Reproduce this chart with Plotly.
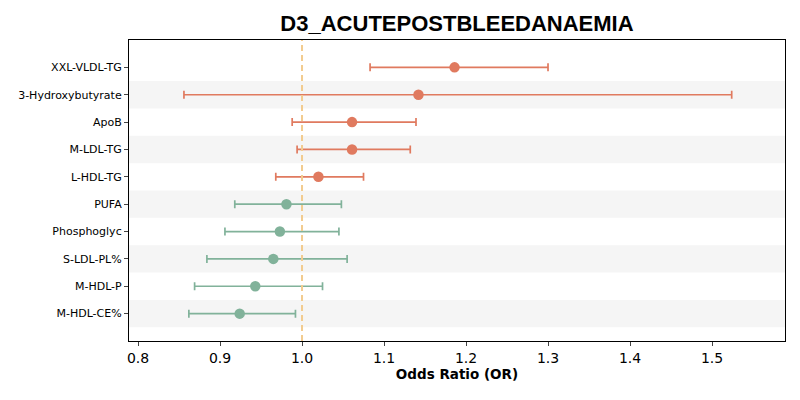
#### Import Modules ####
import plotly.graph_objects as go



#### Global Objects ####
TITLE = "D3_ACUTEPOSTBLEEDANAEMIA"

# top to bottom, as shown
metabolites = ["XXL-VLDL-TG", "3-Hydroxybutyrate", "ApoB", "M-LDL-TG", "L-HDL-TG",
               "PUFA", "Phosphoglyc", "S-LDL-PL%", "M-HDL-P", "M-HDL-CE%"]
odds_ratio = [1.186, 1.142, 1.061, 1.061, 1.020, 0.981, 0.973, 0.965, 0.943, 0.924]
ci_low = [1.083, 0.856, 0.988, 0.994, 0.968, 0.918, 0.906, 0.884, 0.869, 0.862]
ci_high = [1.300, 1.524, 1.139, 1.132, 1.075, 1.048, 1.045, 1.055, 1.025, 0.992]

x_ticks = [0.8, 0.9, 1.0, 1.1, 1.2, 1.3, 1.4, 1.5]

ORANGE = "#E07A5F"
GREEN = "#81B29A"
REF_LINE = "#F2CC8F"
BAND = "#F5F5F5"

# page body has an 8px margin, so the figure is made a bit smaller
W, H = 792, 392



#### Define Functions ####
def build_plot():
    n = len(metabolites)
    # bottom row sits at y=0
    y_pos = [n - 1 - i for i in range(n)]

    fig = go.Figure()

    # Alternating grey bands behind the rows
    for i, y in enumerate(y_pos):
        if y % 2 == 0:
            fig.add_shape(type="rect", xref="paper", yref="y",
                          x0=0, x1=1, y0=y - 0.5, y1=y + 0.5,
                          fillcolor=BAND, line_width=0, layer="below")

    # Reference line at OR = 1
    fig.add_shape(type="line", xref="x", yref="paper",
                  x0=1.0, x1=1.0, y0=0, y1=1,
                  line=dict(color=REF_LINE, width=2, dash="6px,4px"))

    # One trace per direction (risk vs protective)
    for up, color in [(True, ORANGE), (False, GREEN)]:
        idx = [i for i in range(n) if (odds_ratio[i] > 1.0) == up]
        fig.add_trace(go.Scatter(
            x=[odds_ratio[i] for i in idx],
            y=[y_pos[i] for i in idx],
            mode="markers",
            marker=dict(color=color, size=10.5),
            error_x=dict(type="data", symmetric=False,
                         array=[ci_high[i] - odds_ratio[i] for i in idx],
                         arrayminus=[odds_ratio[i] - ci_low[i] for i in idx],
                         color=color, thickness=1.7, width=4),
            showlegend=False))

    fig.update_layout(
        width=W, height=H,
        margin=dict(l=121, r=15, t=32, b=59, autoexpand=False),
        plot_bgcolor="white", paper_bgcolor="white",
        font=dict(family="DejaVu Sans", color="black"),
        title=dict(text=f"<b>{TITLE}</b>", x=449 / W, xanchor="center",
                   y=1 - 15 / H, yanchor="middle",
                   font=dict(family="Liberation Sans, Arial", size=22, color="black")),
    )
    fig.update_xaxes(range=[0.789, 1.589], tickvals=x_ticks,
                     ticktext=[f"{v:.1f}" for v in x_ticks],
                     tickfont=dict(size=14), ticks="outside", ticklen=4,
                     showgrid=False, zeroline=False,
                     showline=True, linecolor="black", linewidth=1.2, mirror=True,
                     title=dict(text="<b>Odds Ratio (OR)</b>", font=dict(size=13.5), standoff=4))
    fig.update_yaxes(range=[-1, n], tickvals=y_pos, ticktext=metabolites,
                     tickfont=dict(size=11), ticks="outside", ticklen=4,
                     showgrid=False, zeroline=False,
                     showline=True, linecolor="black", linewidth=1.2, mirror=True)

    return fig



#### Main Actions ####
if __name__ == "__main__":
    fig = build_plot()
    fig.write_html("out.html")
